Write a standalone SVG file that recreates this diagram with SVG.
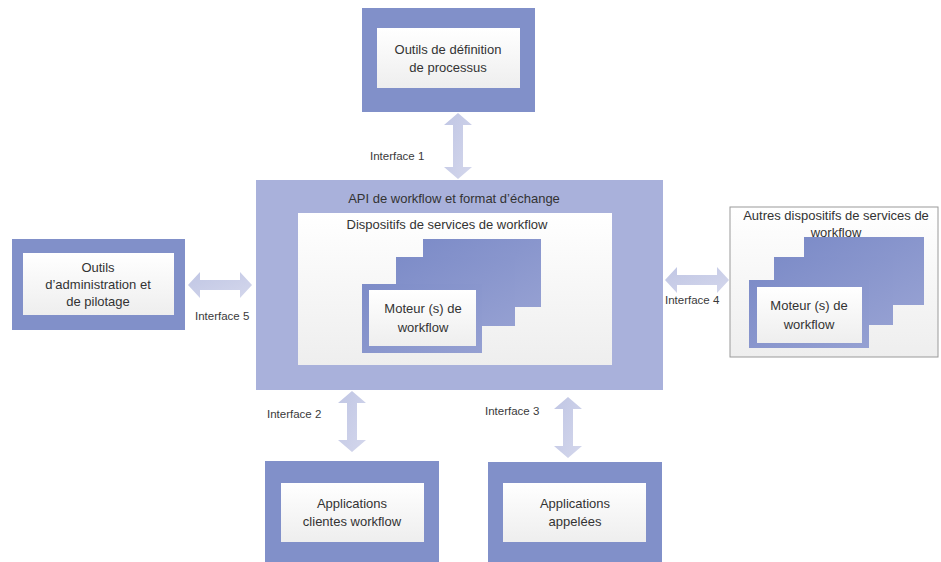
<svg xmlns="http://www.w3.org/2000/svg" width="941" height="562" viewBox="0 0 941 562">
<defs>
<linearGradient id="wg" x1="0" y1="0" x2="0" y2="1"><stop offset="0" stop-color="#ffffff"/><stop offset="1" stop-color="#eeeeee"/></linearGradient>
<linearGradient id="ag" x1="0" y1="0" x2="1" y2="1"><stop offset="0" stop-color="#c0c6e4"/><stop offset="1" stop-color="#d4d7ec"/></linearGradient>
<linearGradient id="sg" x1="0" y1="0" x2="1" y2="1"><stop offset="0" stop-color="#7d8cc8"/><stop offset="1" stop-color="#95a0d2"/></linearGradient>
</defs>
<style>
.outer{fill:#8190c9}
.main{fill:#a9b1db}
.inner{fill:url(#wg)}
.stack{fill:url(#sg)}
.arr{fill:url(#ag)}
.t{font-family:"Liberation Sans",Arial,sans-serif;font-size:13px;fill:#333;text-anchor:middle}
.lbl{font-family:"Liberation Sans",Arial,sans-serif;font-size:11.5px;fill:#3a3a3a}
</style>
<rect width="941" height="562" fill="#ffffff"/>
<g id="connectors">
<polygon class="arr" points="458,113 472,125 463,125 463,167 472,167 458,179 444,167 453,167 453,125 444,125"/>
<polygon class="arr" points="188,285 200,272 200,280 240,280 240,272 252,285 240,298 240,290 200,290 200,298"/>
<polygon class="arr" points="665,280 677,267 677,275 717,275 717,267 729,280 717,293 717,285 677,285 677,293"/>
<polygon class="arr" points="352,391 366,403 357,403 357,440 366,440 352,452 338,440 347,440 347,403 338,403"/>
<polygon class="arr" points="568,397 582,409 573,409 573,446 582,446 568,458 554,446 563,446 563,409 554,409"/>
<text class="lbl" x="370" y="160">Interface 1</text>
<text class="lbl" x="195" y="320">Interface 5</text>
<text class="lbl" x="665" y="304">Interface 4</text>
<text class="lbl" x="267" y="418">Interface 2</text>
<text class="lbl" x="485" y="415">Interface 3</text>
</g>
<g id="def-processus">
<rect class="outer" x="362" y="8" width="173" height="104"/>
<rect class="inner" x="377" y="28" width="143" height="60"/>
<text class="t" x="448" y="54">Outils de définition</text>
<text class="t" x="448" y="72">de processus</text>
</g>
<g id="api">
<rect class="main" x="256" y="180" width="407" height="210"/>
<text class="t" x="454" y="203">API de workflow et format d’échange</text>
</g>
<g id="dispositifs">
<rect class="inner" x="298" y="213" width="314" height="152"/>
<text class="t" x="447" y="229">Dispositifs de services de workflow</text>
<rect class="stack" x="423" y="239" width="118" height="68"/>
<rect class="stack" x="396" y="257" width="119" height="69"/>
<rect class="stack" x="362" y="284" width="120" height="69"/>
<rect class="inner" x="369" y="290" width="107" height="56"/>
<text class="t" x="423" y="313">Moteur (s) de</text>
<text class="t" x="423" y="332">workflow</text>
</g>
<g id="admin">
<rect class="outer" x="12" y="239" width="173" height="91"/>
<rect class="inner" x="23" y="253" width="151" height="62"/>
<text class="t" x="98" y="272">Outils</text>
<text class="t" x="98" y="289">d’administration et</text>
<text class="t" x="98" y="306">de pilotage</text>
</g>
<g id="autres">
<rect x="730" y="207" width="208" height="150" fill="url(#wg)" stroke="#9a9a9a" stroke-width="1"/>
<text class="t" x="836" y="220">Autres dispositifs de services de</text>
<text class="t" x="836" y="237">workflow</text>
<rect class="stack" x="804" y="237" width="120" height="68"/>
<rect class="stack" x="774" y="257" width="119" height="68"/>
<rect class="stack" x="749" y="280" width="120" height="68"/>
<rect class="inner" x="757" y="287" width="105" height="56"/>
<text class="t" x="809" y="310">Moteur (s) de</text>
<text class="t" x="809" y="329">workflow</text>
</g>
<g id="clientes">
<rect class="outer" x="265" y="461" width="174" height="110"/>
<rect class="inner" x="281" y="483" width="143" height="59"/>
<text class="t" x="352" y="508">Applications</text>
<text class="t" x="352" y="526">clientes workflow</text>
</g>
<g id="appelees">
<rect class="outer" x="488" y="462" width="174" height="110"/>
<rect class="inner" x="503" y="483" width="143" height="59"/>
<text class="t" x="575" y="508">Applications</text>
<text class="t" x="575" y="526">appelées</text>
</g>
</svg>
